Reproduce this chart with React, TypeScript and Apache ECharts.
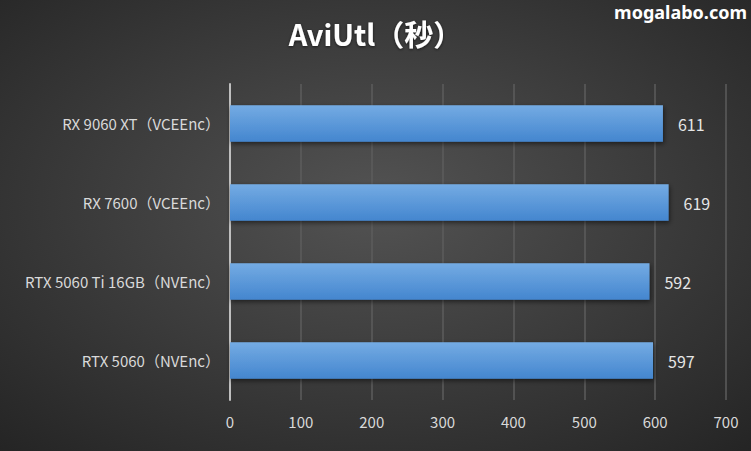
import React, { useEffect, useRef } from "react";
import * as echarts from "echarts";

const categories = [
  "RX 9060 XT（VCEEnc）",
  "RX 7600（VCEEnc）",
  "RTX 5060 Ti 16GB（NVEnc）",
  "RTX 5060（NVEnc）",
];
const values = [611, 619, 592, 597];
const xTicks = [0, 100, 200, 300, 400, 500, 600, 700];

const FONT = "'Noto Sans CJK JP', 'Noto Sans', sans-serif";

export default function App() {
  const ref = useRef<HTMLDivElement>(null);
  useEffect(() => {
    document.body.style.margin = "0";
    const chart = echarts.init(ref.current!, null, { renderer: "svg" });
    chart.setOption({
      animation: false,
      backgroundColor: {
        type: "radial",
        x: 0.5,
        y: 0.45,
        r: 0.75,
        colorStops: [
          { offset: 0, color: "#535353" },
          { offset: 1, color: "#242424" },
        ],
      },
      title: {
        text: "AviUtl（秒）",
        left: "center",
        top: 13,
        textStyle: {
          color: "#ffffff",
          fontSize: 29,
          fontWeight: "bold",
          fontFamily: FONT,
          textShadowColor: "rgba(0,0,0,0.6)",
          textShadowBlur: 3,
          textShadowOffsetY: 1,
        },
      },
      graphic: [
        {
          type: "text",
          right: 4,
          top: 3,
          style: {
            text: "mogalabo.com",
            fill: "#ffffff",
            font: "bold 18px 'Noto Sans', sans-serif",
            shadowColor: "#2f8fff",
            shadowBlur: 6,
          },
        },
      ],
      grid: { left: 230, right: 25, top: 84, bottom: 51, containLabel: false },
      xAxis: {
        type: "value",
        min: 0,
        max: 700,
        interval: 100,
        axisLine: { show: false },
        axisTick: { show: false },
        splitLine: { show: true, lineStyle: { color: "#5c5c5c", width: 1.5 } },
        axisLabel: {
          color: "#d9d9d9",
          fontSize: 15,
          fontFamily: FONT,
          margin: 14,
          formatter: (v: number) => (xTicks.includes(v) ? String(v) : ""),
        },
      },
      yAxis: {
        type: "category",
        data: categories,
        inverse: true,
        axisLine: { show: true, lineStyle: { color: "#bfbfbf", width: 2 } },
        axisTick: { show: false },
        axisLabel: {
          color: "#d9d9d9",
          fontSize: 15,
          fontFamily: FONT,
          margin: 10,
        },
      },
      series: [
        {
          type: "bar",
          data: values,
          barWidth: "46%",
          itemStyle: {
            color: {
              type: "linear",
              x: 0,
              y: 0,
              x2: 0,
              y2: 1,
              colorStops: [
                { offset: 0, color: "#74abe3" },
                { offset: 1, color: "#4486cf" },
              ],
            },
            shadowColor: "rgba(0,0,0,0.55)",
            shadowBlur: 5,
            shadowOffsetY: 2,
            shadowOffsetX: 1,
          },
          label: {
            show: true,
            position: "right",
            distance: 15,
            color: "#e6e6e6",
            fontSize: 16,
            fontFamily: FONT,
          },
        },
      ],
    });
    return () => chart.dispose();
  }, []);
  return <div ref={ref} style={{ width: 751, height: 451 }} />;
}
